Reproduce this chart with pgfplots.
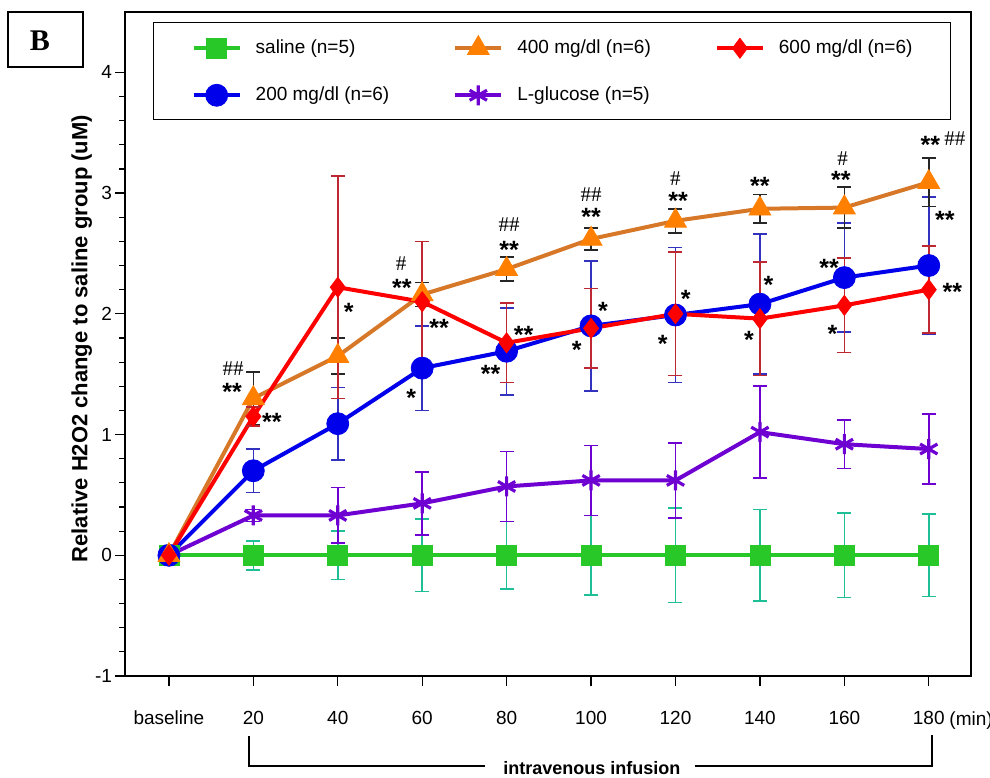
\documentclass[border=0pt]{standalone}
\usepackage{pgfplots}
\pgfplotsset{compat=1.18}
\usepackage{pgfplotstable}
\usepackage{fontspec}
\setmainfont{Liberation Sans}
\newfontfamily\timesf{Liberation Serif}

\definecolor{salgreen}{RGB}{40,200,40}
\definecolor{salerr}{RGB}{30,190,150}
\definecolor{glupurple}{RGB}{110,0,210}
\definecolor{blu}{RGB}{0,0,235}
\definecolor{bluerr}{RGB}{50,50,190}
\definecolor{orgmark}{RGB}{255,128,0}
\definecolor{orgline}{RGB}{215,120,40}
\definecolor{redm}{RGB}{255,0,0}
\definecolor{rederr}{RGB}{190,40,50}

% x: 0 = baseline, 1..9 = 20..180 min
\pgfplotstableread{
x y e
0 0 0
1 0 0.12
2 0 0.20
3 0 0.30
4 0 0.28
5 0 0.33
6 0 0.39
7 0 0.38
8 0 0.35
9 0 0.34
}\saline
\pgfplotstableread{
x y e
0 0    0
1 0.33 0.05
2 0.33 0.23
3 0.43 0.26
4 0.57 0.29
5 0.62 0.29
6 0.62 0.31
7 1.02 0.38
8 0.92 0.20
9 0.88 0.29
}\lglu
\pgfplotstableread{
x y e
0 0    0
1 0.70 0.18
2 1.09 0.30
3 1.55 0.35
4 1.69 0.36
5 1.90 0.54
6 1.99 0.56
7 2.08 0.58
8 2.30 0.45
9 2.40 0.57
}\dtwo
\pgfplotstableread{
x y e
0 0    0
1 1.30 0.22
2 1.65 0.15
3 2.16 0.10
4 2.37 0.10
5 2.62 0.09
6 2.77 0.10
7 2.87 0.12
8 2.88 0.17
9 3.09 0.20
}\dfour
\pgfplotstableread{
x y e
0 0    0
1 1.15 0.08
2 2.22 0.92
3 2.10 0.50
4 1.76 0.33
5 1.88 0.33
6 2.00 0.51
7 1.96 0.47
8 2.07 0.39
9 2.20 0.36
}\dsix

\pgfplotsset{
  salst/.style={salgreen, line width=2pt, mark=square*, mark size=5pt,
    mark options={solid, fill=salgreen, draw=salgreen, line width=0.4pt}},
  glust/.style={glupurple, line width=2pt, mark=asterisk, mark size=5pt,
    mark options={solid, glupurple, line width=1.6pt}},
  twost/.style={blu, line width=2pt, mark=*, mark size=5.5pt,
    mark options={solid, fill=blu, draw=blu, line width=0.4pt}},
  fourst/.style={orgline, line width=2pt, mark=triangle*, mark size=6.3pt,
    mark options={solid, fill=orgmark, draw=orgmark, line width=0.4pt}},
  sixst/.style={red, line width=2pt, mark=diamond*, mark size=5pt,
    mark options={solid, fill=redm, draw=redm, line width=0.4pt}},
}

\begin{document}
\begin{tikzpicture}[
  st/.style={font=\fontsize{12.5}{12}\selectfont\bfseries, anchor=base, yshift=-7.2pt, inner sep=0pt},
  hs/.style={font=\timesf\fontsize{10.5}{10.5}\selectfont, anchor=base, yshift=-3.6pt, inner sep=0pt}]
\useasboundingbox (-62.5pt,-50.5pt) rectangle (432.5pt,338pt);
\begin{axis}[
  at={(0,0)}, anchor=south west,
  scale only axis, width=423pt, height=332pt,
  xmin=-0.52, xmax=9.5, ymin=-1, ymax=4.5,
  xtick={0,...,9},
  xticklabels={baseline,20,40,60,80,100,120,140,160,180},
  ytick={-1,0,1,2,3,4}, minor y tick num=4,
  tick align=outside, xtick pos=bottom, ytick pos=left,
  major tick length=5pt, minor tick length=3pt,
  tick style={black, line width=0.6pt},
  axis line style={line width=0.8pt},
  /pgf/number format/assume math mode=true,
  ticklabel style={font=\fontsize{9.5}{11}\selectfont},
  xticklabel style={yshift=-9pt},
  yticklabel style={xshift=2pt},
  ylabel={Relative H2O2 change to saline group (uM)},
  ylabel style={font=\fontsize{11}{12}\selectfont\bfseries,
    at={(axis description cs:-0.051,0.508)}, anchor=center},
  clip=false,
  legend columns=3,
  legend style={at={(rel axis cs:0.0331,0.985)}, anchor=north west,
    draw=black, line width=0.7pt, inner xsep=19pt, inner ysep=6.5pt,
    row sep=13pt, font=\fontsize{9.5}{11}\selectfont,
    nodes={inner sep=0pt, text height=7pt, text depth=2pt},
    cells={anchor=west},
    /tikz/every odd column/.append style={column sep=7pt},
    /tikz/every even column/.append style={column sep=32pt}},
  legend image code/.code={\draw[mark repeat=2, mark phase=2, #1]
    plot coordinates {(0pt,0pt) (11.5pt,0pt) (23pt,0pt)};},
  error bars/y dir=both, error bars/y explicit,
]
\addplot[salst, forget plot,
  error bars/error bar style={salerr, line width=0.8pt},
  error bars/error mark options={rotate=90, salerr, mark size=3.5pt, line width=0.8pt}]
  table[x=x, y=y, y error=e] {\saline};
\addplot[glust, forget plot,
  error bars/error bar style={glupurple, line width=0.8pt},
  error bars/error mark options={rotate=90, glupurple, mark size=3.5pt, line width=0.8pt}]
  table[x=x, y=y, y error=e] {\lglu};
\addplot[twost, forget plot,
  error bars/error bar style={bluerr, line width=0.8pt},
  error bars/error mark options={rotate=90, bluerr, mark size=3.5pt, line width=0.8pt}]
  table[x=x, y=y, y error=e] {\dtwo};
\addplot[fourst, forget plot,
  error bars/error bar style={black!85, line width=0.8pt},
  error bars/error mark options={rotate=90, black!85, mark size=3.5pt, line width=0.8pt}]
  table[x=x, y=y, y error=e] {\dfour};
\addplot[sixst, forget plot,
  error bars/error bar style={rederr, line width=0.8pt},
  error bars/error mark options={rotate=90, rederr, mark size=3.5pt, line width=0.8pt}]
  table[x=x, y=y, y error=e] {\dsix};

\addlegendimage{salst}\addlegendentry{saline (n=5)}
\addlegendimage{fourst}\addlegendentry{400 mg/dl (n=6)}
\addlegendimage{sixst}\addlegendentry{600 mg/dl (n=6)}
\addlegendimage{twost}\addlegendentry{200 mg/dl (n=6)}
\addlegendimage{glust}\addlegendentry{L-glucose (n=5)}

% significance marks
\node[hs] at (axis cs:0.76,1.55) {\#\#};
\node[st] at (axis cs:0.75,1.40) {**};
\node[st] at (axis cs:1.22,1.15) {**};
\node[st] at (axis cs:2.13,2.06) {*};
\node[hs] at (axis cs:2.75,2.42) {\#};
\node[st] at (axis cs:2.76,2.26) {**};
\node[st] at (axis cs:3.20,1.93) {**};
\node[st] at (axis cs:2.87,1.35) {*};
\node[hs] at (axis cs:4.03,2.74) {\#\#};
\node[st] at (axis cs:4.03,2.58) {**};
\node[st] at (axis cs:4.20,1.87) {**};
\node[st] at (axis cs:3.81,1.55) {**};
\node[hs] at (axis cs:5.00,2.99) {\#\#};
\node[st] at (axis cs:5.00,2.85) {**};
\node[st] at (axis cs:5.14,2.07) {*};
\node[st] at (axis cs:4.83,1.75) {*};
\node[hs] at (axis cs:6.00,3.12) {\#};
\node[st] at (axis cs:6.03,2.98) {**};
\node[st] at (axis cs:6.12,2.17) {*};
\node[st] at (axis cs:5.85,1.80) {*};
\node[st] at (axis cs:7.00,3.11) {**};
\node[st] at (axis cs:7.10,2.29) {*};
\node[st] at (axis cs:6.87,1.83) {*};
\node[hs] at (axis cs:7.98,3.29) {\#};
\node[st] at (axis cs:7.96,3.16) {**};
\node[st] at (axis cs:7.82,2.43) {**};
\node[st] at (axis cs:7.86,1.88) {*};
\node[st] at (axis cs:9.02,3.45) {**};
\node[hs] at (axis cs:9.31,3.45) {\#\#};
\node[st] at (axis cs:9.19,2.83) {**};
\node[st] at (axis cs:9.28,2.23) {**};

% unit and infusion bracket
\node[anchor=base west, inner sep=0pt, font=\fontsize{9.5}{11}\selectfont]
  at ([yshift=-24.5pt]axis cs:9.24,-1) {(min)};
\draw[line width=0.7pt] (axis cs:0.95,-1.50) -- (axis cs:0.95,-1.744) -- (axis cs:3.74,-1.744);
\draw[line width=0.7pt] (axis cs:6.23,-1.744) -- (axis cs:9.04,-1.744) -- (axis cs:9.04,-1.49);
\node[font=\fontsize{9}{10}\selectfont\bfseries] at (axis cs:5.01,-1.76) {intravenous infusion};
\end{axis}
\draw[line width=0.8pt] (-58.5pt,304.5pt) rectangle (-21pt,332pt);
\node[font=\timesf\bfseries\fontsize{15}{15}\selectfont] at (-42.5pt,317.5pt) {B};
\end{tikzpicture}
\end{document}
